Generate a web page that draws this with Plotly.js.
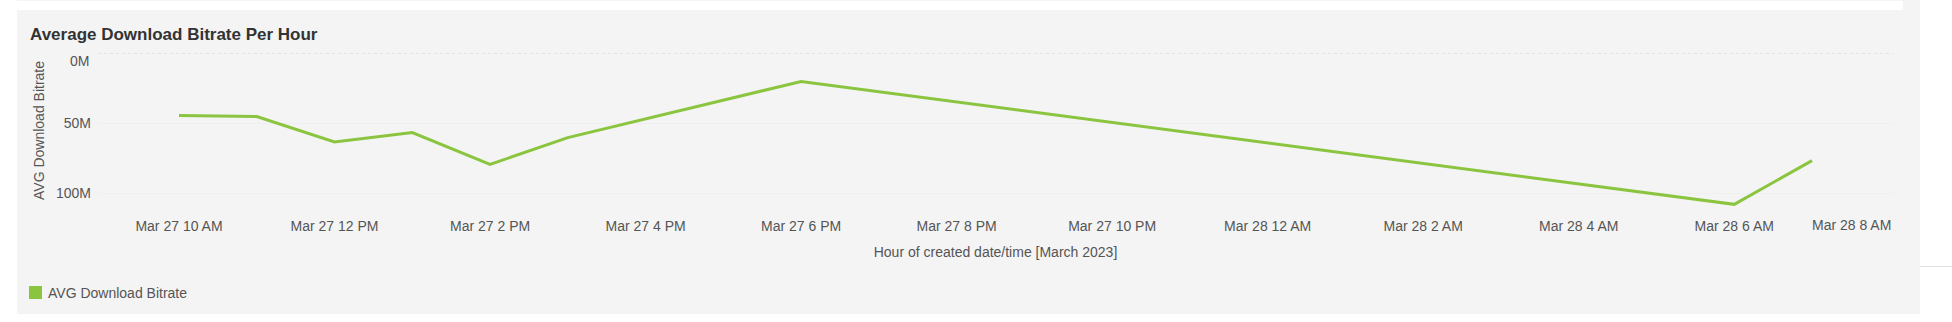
<!DOCTYPE html>
<html>
<head>
<meta charset="utf-8">
<script src="https://cdn.plot.ly/plotly-3.0.1.min.js"></script>
<style>
  html, body { margin: 0; padding: 0; background: #ffffff; }
  body { width: 1952px; height: 322px; position: relative; overflow: hidden; font-family: "Liberation Sans", Arial, sans-serif; }
  #panel { position: absolute; left: 17px; top: 0; width: 1903px; height: 314px; background: #f4f4f4; }
  #card-above { position: absolute; left: 0; top: 1px; width: 1903px; height: 9px; background: #ffffff; }
  #side-rule { position: absolute; left: 1920px; top: 266px; width: 32px; height: 1px; background: #e2e2e2; }
  #chart { position: absolute; left: 0; top: 0; width: 1952px; height: 322px; }
</style>
</head>
<body>
<div id="panel"></div>
<div id="card-above"></div>
<div id="side-rule"></div>
<div id="chart"></div>
<script>
// Hourly average download bitrate (bits per second)
const hours = [
  "2023-03-27 10:00", "2023-03-27 11:00", "2023-03-27 12:00", "2023-03-27 13:00",
  "2023-03-27 14:00", "2023-03-27 15:00", "2023-03-27 18:00",
  "2023-03-28 06:00", "2023-03-28 07:00"
];
const avgBitrate = [44.6e6, 45.3e6, 63.4e6, 56.7e6, 79.4e6, 60.3e6, 20.3e6, 107.9e6, 76.7e6];

// Time-axis ticks, every two hours
const tickHours = [
  "2023-03-27 10:00", "2023-03-27 12:00", "2023-03-27 14:00", "2023-03-27 16:00",
  "2023-03-27 18:00", "2023-03-27 20:00", "2023-03-27 22:00", "2023-03-28 00:00",
  "2023-03-28 02:00", "2023-03-28 04:00", "2023-03-28 06:00", "2023-03-28 08:00"
];
const tickLabels = [
  "Mar 27 10 AM", "Mar 27 12 PM", "Mar 27 2 PM", "Mar 27 4 PM",
  "Mar 27 6 PM", "Mar 27 8 PM", "Mar 27 10 PM", "Mar 28 12 AM",
  "Mar 28 2 AM", "Mar 28 4 AM", "Mar 28 6 AM", "Mar 28 8 AM"
];

// Value-axis ticks
const yTickVals = [0, 50e6, 100e6];
const yTickText = ["0M", "50M", "100M"];

const GREEN = "#8bc540";
const TXT = "#555555";
const FONT = "Liberation Sans, Arial, sans-serif";

// The last tick label sits flush against the right end of the axis
const nLast = tickHours.length - 1;

const trace = {
  type: "scatter",
  mode: "lines",
  name: "AVG Download Bitrate",
  x: hours,
  y: avgBitrate,
  line: { color: GREEN, width: 3 },
  hoverinfo: "x+y"
};

const layout = {
  width: 1952,
  height: 322,
  margin: { l: 98, r: 59, t: 53, b: 114, pad: 0 },
  paper_bgcolor: "rgba(0,0,0,0)",
  plot_bgcolor: "rgba(0,0,0,0)",
  showlegend: false,
  font: { family: FONT, size: 14, color: TXT },
  title: {
    text: "<b>Average Download Bitrate Per Hour</b>",
    font: { family: FONT, size: 17, color: "#333333" },
    x: 30 / 1952, xanchor: "left", xref: "container",
    y: 1 - 34 / 322, yanchor: "middle", yref: "container"
  },
  xaxis: {
    type: "date",
    range: ["2023-03-27 08:57:30", "2023-03-28 08:02:30"],
    tickmode: "array",
    tickvals: tickHours.slice(0, nLast),
    ticktext: tickLabels.slice(0, nLast),
    ticks: "",
    showgrid: false,
    zeroline: false,
    showline: false,
    ticklabelstandoff: 8,
    tickfont: { family: FONT, size: 14, color: TXT },
    title: {
      text: "Hour of created date/time [March 2023]",
      font: { family: FONT, size: 14, color: TXT },
      standoff: 14
    }
  },
  yaxis: {
    range: [110.5e6, 0],
    tickmode: "array",
    tickvals: yTickVals,
    ticktext: ["", yTickText[1], yTickText[2]],
    ticks: "",
    showgrid: true,
    gridcolor: "#efefef",
    gridwidth: 1,
    zeroline: false,
    showline: false,
    ticklabelstandoff: 6,
    tickfont: { family: FONT, size: 14, color: TXT },
    title: {
      text: "AVG Download Bitrate",
      font: { family: FONT, size: 14, color: TXT },
      standoff: 8
    }
  },
  shapes: [
    {
      type: "line", xref: "paper", x0: 0, x1: 1, yref: "y", y0: yTickVals[0], y1: yTickVals[0],
      line: { color: "#cfcfcf", width: 1, dash: "dot" }, layer: "below"
    },
    {
      // legend swatch
      type: "rect", xref: "paper", yref: "paper",
      x0: (29 - 98) / 1795, x1: (42 - 98) / 1795,
      y0: (208 - 286) / 155, y1: (208 - 299) / 155,
      fillcolor: GREEN, line: { width: 0 }
    }
  ],
  annotations: [
    {
      // top value label, nudged down into the plot
      xref: "paper", x: 0, xanchor: "right", xshift: -7,
      yref: "y", y: yTickVals[0], yanchor: "middle", yshift: -8,
      text: yTickText[0], showarrow: false,
      font: { family: FONT, size: 14, color: TXT }
    },
    {
      xref: "x", x: tickHours[nLast], xanchor: "right", xshift: 3,
      yref: "paper", y: 0, yanchor: "middle", yshift: -17,
      text: tickLabels[nLast], showarrow: false,
      font: { family: FONT, size: 14, color: TXT }
    },
    {
      xref: "paper", x: (46 - 98) / 1795, xanchor: "left",
      yref: "paper", y: (208 - 292.7) / 155, yanchor: "middle",
      text: trace.name, showarrow: false,
      font: { family: FONT, size: 14, color: TXT }
    }
  ]
};

Plotly.newPlot("chart", [trace], layout, { displayModeBar: false, staticPlot: true });
</script>
</body>
</html>
